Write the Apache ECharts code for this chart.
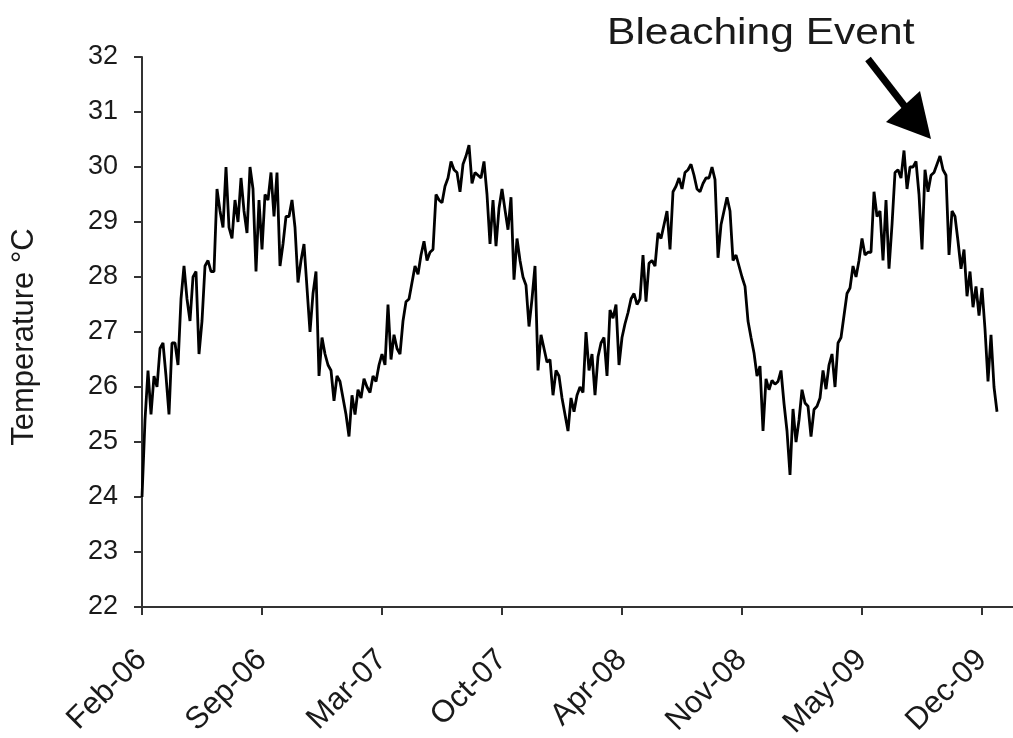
<!DOCTYPE html>
<html>
<head>
<meta charset="utf-8">
<title>Temperature °C</title>
<script src="https://cdn.jsdelivr.net/npm/echarts@6/dist/echarts.min.js"></script>
<style>
  html, body { margin: 0; padding: 0; background: #ffffff; }
  #chart { width: 1013px; height: 738px; }
</style>
</head>
<body>
<div id="chart"></div>
<script>
// Tick labels along the time axis, one every 40 samples
const tickLabels = ['Feb-06', 'Sep-06', 'Mar-07', 'Oct-07', 'Apr-08', 'Nov-08', 'May-09', 'Dec-09'];
const samplesPerTick = 40;

// Water temperature (°C), sample by sample, grouped by labelled period
const febToSep06 = [
  24.0, 25.4, 26.3, 25.5, 26.2, 26.0, 26.7, 26.8, 26.2, 25.5,
  26.8, 26.8, 26.4, 27.6, 28.2, 27.6, 27.2, 28.0, 28.1, 26.6,
  27.2, 28.2, 28.3, 28.1, 28.1, 29.6, 29.2, 28.9, 30.0, 28.9,
  28.7, 29.4, 29.0, 29.8, 29.2, 28.8, 30.0, 29.6, 28.1, 29.4
];
const sep06ToMar07 = [
  28.5, 29.5, 29.4, 29.9, 29.1, 29.9, 28.2, 28.6, 29.1, 29.1,
  29.4, 28.9, 27.9, 28.3, 28.6, 27.8, 27.0, 27.7, 28.1, 26.2,
  26.9, 26.6, 26.4, 26.3, 25.75, 26.2, 26.1, 25.8, 25.5, 25.1,
  25.85, 25.5, 25.95, 25.8, 26.15, 26.0, 25.9, 26.2, 26.1, 26.4
];
const mar07ToOct07 = [
  26.6, 26.4, 27.5, 26.5, 26.95, 26.7, 26.6, 27.2, 27.55, 27.6,
  27.9, 28.2, 28.05, 28.4, 28.65, 28.3, 28.45, 28.5, 29.5, 29.4,
  29.35, 29.65, 29.8, 30.1, 29.95, 29.9, 29.55, 30.05, 30.2, 30.4,
  29.7, 29.9, 29.85, 29.8, 30.1, 29.5, 28.6, 29.4, 28.56, 29.25
];
const oct07ToApr08 = [
  29.6, 29.22, 28.86, 29.45, 27.95, 28.7, 28.3, 28.0, 27.85, 27.1,
  27.6, 28.2, 26.3, 26.95, 26.7, 26.45, 26.5, 25.85, 26.3, 26.2,
  25.8, 25.5, 25.2, 25.8, 25.55, 25.85, 26.0, 25.9, 27.0, 26.3,
  26.6, 25.85, 26.55, 26.8, 26.9, 26.2, 27.4, 27.25, 27.5, 26.4
];
const apr08ToNov08 = [
  26.9, 27.15, 27.35, 27.6, 27.7, 27.5, 27.6, 28.4, 27.55, 28.25,
  28.3, 28.2, 28.8, 28.7, 28.95, 29.2, 28.5, 29.55, 29.65, 29.8,
  29.6, 29.9, 29.95, 30.05, 29.85, 29.6, 29.55, 29.7, 29.8, 29.8,
  30.0, 29.77, 28.35, 28.95, 29.2, 29.45, 29.2, 28.3, 28.4, 28.2
];
const nov08ToMay09 = [
  28.0, 27.83, 27.2, 26.9, 26.62, 26.2, 26.38, 25.2, 26.15, 25.95,
  26.12, 26.05, 26.1, 26.3, 25.7, 25.2, 24.4, 25.6, 25.0, 25.4,
  25.95, 25.71, 25.65, 25.1, 25.59, 25.65, 25.8, 26.3, 25.96, 26.4,
  26.6, 26.0, 26.8, 26.9, 27.3, 27.7, 27.8, 28.2, 28.0, 28.3
];
const may09ToDec09 = [
  28.7, 28.4, 28.45, 28.45, 29.55, 29.1, 29.2, 28.3, 29.4, 28.15,
  28.95, 29.9, 29.95, 29.8, 30.3, 29.6, 30.0, 30.0, 30.1, 29.5,
  28.5, 29.95, 29.55, 29.85, 29.9, 30.05, 30.2, 29.95, 29.85, 28.4,
  29.2, 29.1, 28.65, 28.15, 28.5, 27.65, 28.1, 27.45, 27.83, 27.3
];
const fromDec09 = [27.8, 27.05, 26.1, 26.95, 26.0, 25.55];

const temperature = [].concat(
  febToSep06, sep06ToMar07, mar07ToOct07, oct07ToApr08,
  apr08ToNov08, nov08ToMay09, may09ToDec09, fromDec09
);

const FONT = '"Liberation Sans", Arial, Helvetica, sans-serif';
const INK = '#1a1a1a';
const AXIS = '#333333';

const tickValues = tickLabels.map((_, k) => k * samplesPerTick);
// the time axis runs a little past the last sample, to the right edge
const axisEnd = 290.33;

const chart = echarts.init(document.getElementById('chart'), null, { renderer: 'canvas' });

chart.setOption({
  animation: false,
  backgroundColor: '#ffffff',
  grid: {
    left: 142, right: 0, top: 57, bottom: 131,
    containLabel: false,
    outerBoundsMode: 'none'
  },
  xAxis: {
    type: 'value',
    min: 0,
    max: axisEnd,
    splitLine: { show: false },
    axisLine: { show: true, lineStyle: { color: AXIS, width: 2 } },
    axisTick: {
      show: true, inside: false, length: 8,
      customValues: tickValues,
      lineStyle: { color: AXIS, width: 2 }
    },
    axisLabel: {
      customValues: tickValues,
      rotate: 45,
      align: 'right',
      verticalAlign: 'middle',
      margin: 48,
      fontFamily: FONT,
      fontSize: 31,
      color: INK,
      formatter: (v) => tickLabels[Math.round(v / samplesPerTick)] || ''
    }
  },
  yAxis: {
    type: 'value',
    min: 22,
    max: 32,
    interval: 1,
    name: 'Temperature °C',
    nameLocation: 'middle',
    nameRotate: 90,
    nameGap: 102,
    nameTextStyle: { fontFamily: FONT, fontSize: 31, color: INK, padding: [0, 10, 0, 0] },
    splitLine: { show: false },
    axisLine: { show: true, lineStyle: { color: AXIS, width: 2 } },
    axisTick: { show: true, inside: false, length: 8, lineStyle: { color: AXIS, width: 2 } },
    axisLabel: { margin: 24, fontFamily: FONT, fontSize: 27, color: INK }
  },
  series: [{
    type: 'line',
    data: temperature.map((v, i) => [i, v]),
    showSymbol: false,
    symbol: 'none',
    lineStyle: { color: '#000000', width: 2.8 },
    z: 3
  }],
  graphic: [
    {
      type: 'text',
      x: 607,
      y: 34,
      scaleX: 1.15,
      style: {
        text: 'Bleaching Event',
        fontFamily: FONT,
        fontSize: 37,
        fill: INK,
        align: 'left',
        verticalAlign: 'middle'
      }
    },
    {
      type: 'line',
      shape: { x1: 868, y1: 59, x2: 906, y2: 108 },
      style: { stroke: '#000000', lineWidth: 7, lineCap: 'butt' }
    },
    {
      type: 'polygon',
      shape: { points: [[931, 139], [886, 122], [920, 91]] },
      style: { fill: '#000000' }
    }
  ]
});
</script>
</body>
</html>
